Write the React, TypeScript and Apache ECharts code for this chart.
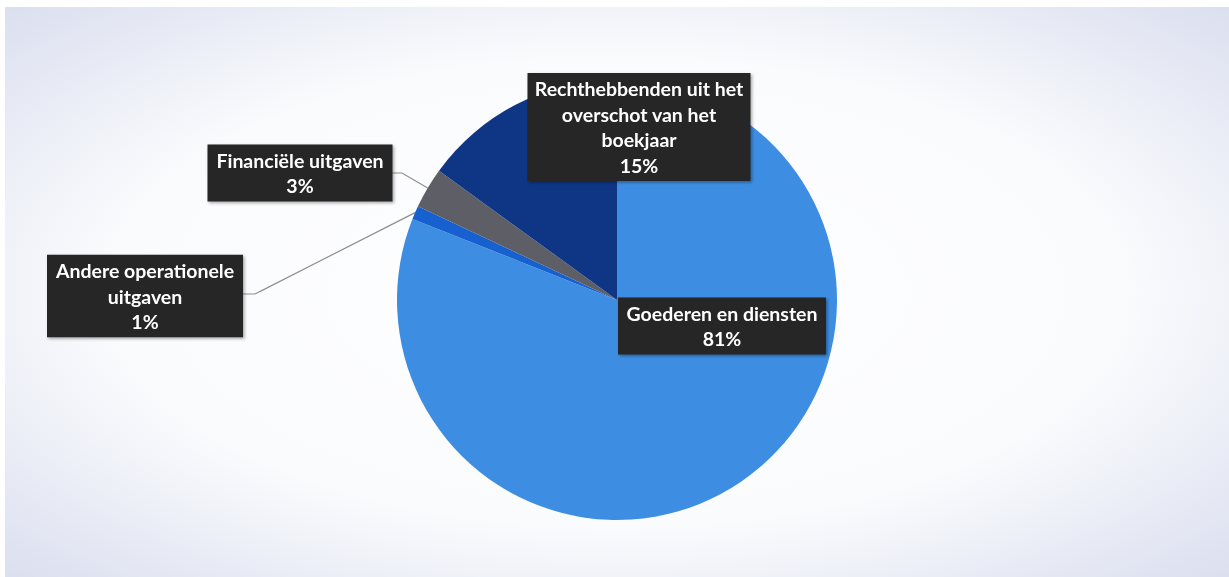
import React, { useEffect, useRef } from "react";
import * as echarts from "echarts";

const categories = [
  "Goederen en diensten",
  "Andere operationele uitgaven",
  "Financiële uitgaven",
  "Rechthebbenden uit het overschot van het boekjaar",
];
const wrappedLabels = [
  "Goederen en diensten",
  "Andere operationele\nuitgaven",
  "Financiële uitgaven",
  "Rechthebbenden uit het\noverschot van het\nboekjaar",
];
const values = [81, 1, 3, 15];
const colors = ["#3d8ee2", "#1660cf", "#5e5f66", "#0f3585"];

// label box centres and widths (layout, px inside the chart div)
const labelCenters = [
  [717, 319],
  [140, 289],
  [295, 166],
  [634, 120],
];
const labelWidths = [196, 184, 173, 211];
// elbow points of leader lines (null = no line)
const elbows: (number[][] | null)[] = [
  null,
  [[250, 287], [238, 287]],
  [[397, 166], [387, 166]],
  null,
];

const CX = 612;
const CY = 293;
const R = 220;

export default function App() {
  const ref = useRef<HTMLDivElement>(null);
  useEffect(() => {
    if (!ref.current) return;
    const chart = echarts.init(ref.current, null, { renderer: "svg" });
    const total = values.reduce((a, b) => a + b, 0);
    const data = categories.map((name, i) => ({
      name,
      value: values[i],
      itemStyle: { color: colors[i] },
      label: { width: labelWidths[i] },
      labelLine: { show: !!elbows[i] },
    }));
    chart.setOption({
      animation: false,
      backgroundColor: {
        type: "radial",
        x: 0.5,
        y: 0.5,
        r: 0.75,
        colorStops: [
          { offset: 0, color: "#ffffff" },
          { offset: 0.55, color: "#fafbfd" },
          { offset: 1, color: "#d6dbed" },
        ],
      },
      series: [
        {
          type: "pie",
          center: [CX, CY],
          radius: R,
          startAngle: 90,
          clockwise: true,
          avoidLabelOverlap: false,
          data,
          label: {
            show: true,
            position: "outside",
            formatter: (p: any) =>
              wrappedLabels[p.dataIndex] + "\n" + Math.round((p.value / total) * 100) + "%",
            color: "#ffffff",
            fontFamily: "Lato",
            fontWeight: "bold",
            fontSize: 19.5,
            lineHeight: 25.5,
            align: "center",
            overflow: "none",
            backgroundColor: "#262626",
            padding: [3, 6, 3, 6],
            shadowColor: "rgba(0,0,0,0.35)",
            shadowBlur: 3,
            shadowOffsetX: 1.5,
            shadowOffsetY: 1.5,
          },
          labelLine: {
            show: true,
            lineStyle: { color: "#8e8e8e", width: 1.2 },
          },
          labelLayout: (params: any) => {
            const i = params.dataIndex;
            const c = labelCenters[i];
            const res: any = {
              x: c[0],
              y: c[1],
              align: "center",
              verticalAlign: "middle",
            };
            if (elbows[i]) {
              let start = params.labelLinePoints && params.labelLinePoints[0];
              if (!start) {
                let acc = 0;
                for (let k = 0; k < i; k++) acc += values[k];
                const mid = ((acc + values[i] / 2) / total) * Math.PI * 2;
                start = [CX + R * Math.sin(mid), CY - R * Math.cos(mid)];
              }
              res.labelLinePoints = [start, elbows[i]![0], elbows[i]![1]];
            }
            return res;
          },
        },
      ],
    });
    return () => chart.dispose();
  }, []);
  return (
    <div
      ref={ref}
      style={{ position: "fixed", left: 5, top: 7, width: 1224, height: 570 }}
    />
  );
}
